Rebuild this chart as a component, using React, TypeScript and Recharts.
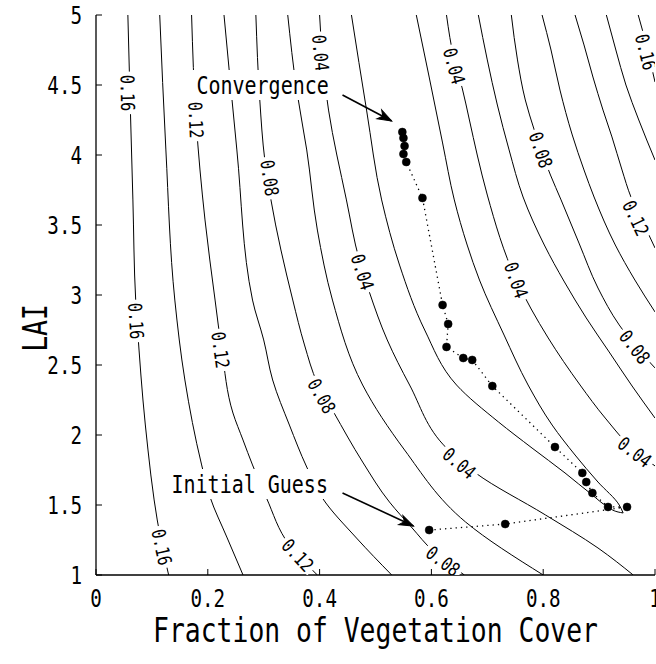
import React from 'react';
import { ComposedChart, Line, Scatter, XAxis, YAxis } from 'recharts';

const CHART_W = 656;
const CHART_H = 664;
const Y_AXIS_W = 96;
const X_AXIS_H = 89;
const TOP = 15;
const RIGHT = 1;
const PLOT_W = CHART_W - Y_AXIS_W - RIGHT;
const PLOT_H = CHART_H - TOP - X_AXIS_H;
const PLOT_BOTTOM = TOP + PLOT_H;

// the figure uses a narrow monospaced gothic face, so squeeze a mono font
const FONT = "'DejaVu Sans Mono', 'Liberation Mono', monospace";
const SQUEEZE = 0.8;

const xTicks = [0, 0.2, 0.4, 0.6, 0.8, 1];
const yTicks = [1, 1.5, 2, 2.5, 3, 3.5, 4, 4.5, 5];

// contour lines, [fraction of cover, LAI], top to bottom
const left16 = [[0.057, 5], [0.061, 4.393], [0.066, 3.679], [0.071, 2.964], [0.077, 2.607], [0.084, 2.25], [0.093, 1.893], [0.104, 1.536], [0.116, 1.25], [0.13, 1]];
const left14 = [[0.114, 5], [0.125, 4.036], [0.141, 2.964], [0.159, 2.393], [0.189, 1.786], [0.204, 1.557], [0.234, 1.271], [0.263, 1]];
const left12 = [[0.171, 5], [0.179, 4.25], [0.195, 3.536], [0.213, 2.964], [0.225, 2.607], [0.245, 2.157], [0.263, 1.964], [0.28, 1.786], [0.305, 1.55], [0.346, 1.214], [0.396, 1]];
const left10 = [[0.229, 5], [0.252, 4.036], [0.28, 2.964], [0.3, 2.679], [0.316, 2.393], [0.346, 2.071], [0.377, 1.771], [0.405, 1.55], [0.466, 1.264], [0.529, 1]];
const left08 = [[0.286, 5], [0.293, 4.393], [0.302, 3.964], [0.313, 3.679], [0.352, 2.964], [0.373, 2.643], [0.396, 2.371], [0.425, 2.164], [0.477, 1.807], [0.525, 1.521], [0.564, 1.343], [0.605, 1.164], [0.659, 1]];
const left06 = [[0.343, 5], [0.359, 4.464], [0.377, 4.036], [0.396, 3.464], [0.423, 2.964], [0.477, 2.357], [0.552, 1.893], [0.661, 1.379], [0.8, 1]];
const left04 = [[0.4, 5], [0.404, 4.75], [0.411, 4.464], [0.416, 4.321], [0.448, 3.679], [0.471, 3.25], [0.489, 3.021], [0.521, 2.679], [0.561, 2.357], [0.627, 1.907], [0.679, 1.729], [0.804, 1.429], [0.898, 1.193], [0.961, 1]];
// the 0.02 level closes into a narrow U around the valley: two branches meeting at the tip
const inner02a = [[0.457, 5], [0.484, 4.321], [0.511, 3.679], [0.543, 3.214], [0.588, 2.75], [0.645, 2.357], [0.72, 2.093], [0.78, 1.907], [0.839, 1.729], [0.888, 1.571], [0.916, 1.486], [0.934, 1.45], [0.943, 1.443]];
const inner02b = [[0.573, 5], [0.596, 4.557], [0.62, 4.086], [0.641, 3.679], [0.664, 3.357], [0.686, 3.107], [0.73, 2.714], [0.773, 2.357], [0.816, 2.071], [0.857, 1.857], [0.898, 1.664], [0.936, 1.5], [0.943, 1.443]];
const right04 = [[0.627, 5], [0.641, 4.679], [0.655, 4.479], [0.668, 4.25], [0.682, 4], [0.7, 3.714], [0.752, 3.107], [0.809, 2.693], [0.866, 2.357], [0.911, 2.121], [0.963, 1.893], [1, 1.779]];
const right06 = [[0.684, 5], [0.7, 4.679], [0.718, 4.357], [0.739, 4.036], [0.764, 3.7], [0.802, 3.357], [0.838, 3.093], [0.877, 2.836], [0.918, 2.593], [0.959, 2.35], [1, 2.121]];
const right08 = [[0.743, 5], [0.754, 4.679], [0.768, 4.393], [0.784, 4.179], [0.796, 4.036], [0.813, 3.857], [0.832, 3.679], [0.864, 3.371], [0.898, 3.05], [0.936, 2.786], [0.971, 2.607], [1, 2.479]];
const right10 = [[0.798, 5], [0.814, 4.75], [0.83, 4.464], [0.852, 4.143], [0.873, 3.893], [0.891, 3.7], [0.929, 3.357], [0.964, 3.107], [1, 2.879]];
const right12 = [[0.857, 5], [0.873, 4.786], [0.889, 4.557], [0.907, 4.321], [0.923, 4.129], [0.941, 3.893], [0.957, 3.7], [0.979, 3.514], [1, 3.336]];
const right14 = [[0.913, 5], [0.93, 4.75], [0.948, 4.5], [0.971, 4.25], [1, 3.964]];
const right16 = [[0.97, 5], [0.98, 4.857], [0.989, 4.714], [1, 4.521]];

const contours: Record<string, { level: number; pts: number[][] }> = {
  left16: { level: 0.16, pts: left16 },
  left14: { level: 0.14, pts: left14 },
  left12: { level: 0.12, pts: left12 },
  left10: { level: 0.1, pts: left10 },
  left08: { level: 0.08, pts: left08 },
  left06: { level: 0.06, pts: left06 },
  left04: { level: 0.04, pts: left04 },
  inner02a: { level: 0.02, pts: inner02a },
  inner02b: { level: 0.02, pts: inner02b },
  right04: { level: 0.04, pts: right04 },
  right06: { level: 0.06, pts: right06 },
  right08: { level: 0.08, pts: right08 },
  right10: { level: 0.1, pts: right10 },
  right12: { level: 0.12, pts: right12 },
  right14: { level: 0.14, pts: right14 },
  right16: { level: 0.16, pts: right16 },
};

// where the level values are written on the lines
const labelLine = ['left16', 'left16', 'left16', 'left12', 'left12', 'left12', 'left08', 'left08', 'left08', 'left04', 'left04', 'left04', 'right04', 'right04', 'right04', 'right08', 'right08', 'right12', 'right16'];
const labelFc = [0.057, 0.072, 0.118, 0.179, 0.223, 0.361, 0.311, 0.404, 0.621, 0.402, 0.477, 0.65, 0.641, 0.752, 0.964, 0.796, 0.964, 0.966, 0.984];
const labelLai = [4.443, 2.814, 1.2, 4.25, 2.607, 1.143, 3.836, 2.279, 1.1, 4.729, 3.164, 1.8, 4.636, 3.107, 1.879, 4.036, 2.629, 3.55, 4.736];

// iterations of the retrieval, from the initial guess to convergence
const iterFc = [0.596, 0.732, 0.95, 0.916, 0.888, 0.877, 0.87, 0.821, 0.709, 0.673, 0.657, 0.627, 0.63, 0.62, 0.584, 0.555, 0.55, 0.552, 0.55, 0.548];
const iterLai = [1.321, 1.364, 1.486, 1.486, 1.586, 1.664, 1.729, 1.914, 2.35, 2.536, 2.55, 2.629, 2.793, 2.929, 3.693, 3.95, 4.007, 4.064, 4.121, 4.164];

// callouts
const noteText = ['Convergence', 'Initial Guess'];
const noteFc = [0.298, 0.275];
const noteLai = [4.5, 1.65];
const convergenceArrow = [[0.441, 4.429], [0.529, 4.243]];
const guessArrow = [[0.441, 1.586], [0.568, 1.35]];

const toRows = (pts: number[][]) => pts.map(([fc, lai]) => ({ fc, lai }));

const labelRows = labelLine.map((line, i) => ({ line, fc: labelFc[i], lai: labelLai[i] }));
const iterRows = iterFc.map((fc, i) => ({ fc, lai: iterLai[i] }));
const noteRows = noteText.map((text, i) => ({ text, fc: noteFc[i], lai: noteLai[i] }));

const SX = PLOT_W;
const SY = PLOT_H / 4;

// direction of the contour where a label sits, in screen degrees
function labelAngle(line: string, fc: number, lai: number) {
  const pts = contours[line].pts;
  const px = fc * SX;
  const py = -lai * SY;
  let best = Infinity;
  let ang = 0;
  for (let i = 0; i < pts.length - 1; i++) {
    const x1 = pts[i][0] * SX, y1 = -pts[i][1] * SY;
    const x2 = pts[i + 1][0] * SX, y2 = -pts[i + 1][1] * SY;
    const dx = x2 - x1, dy = y2 - y1;
    const len2 = dx * dx + dy * dy || 1;
    const t = Math.max(0, Math.min(1, ((px - x1) * dx + (py - y1) * dy) / len2));
    const d = Math.hypot(x1 + t * dx - px, y1 + t * dy - py);
    if (d < best) {
      best = d;
      ang = (Math.atan2(dy, dx) * 180) / Math.PI;
    }
  }
  if (ang > 90) ang -= 180;
  if (ang <= -90) ang += 180;
  return ang;
}

const ContourLabel = (props: any) => {
  const { cx, cy, payload } = props;
  if (cx == null || cy == null) return <g />;
  const txt = contours[payload.line].level.toFixed(2);
  const ang = labelAngle(payload.line, payload.fc, payload.lai);
  const w = txt.length * 19 * 0.602 * SQUEEZE + 6;
  return (
    <g transform={`translate(${cx},${cy}) rotate(${ang})`}>
      <rect x={-w / 2} y={-7} width={w} height={14} fill="#fff" />
      <text transform={`scale(${SQUEEZE},1)`} textAnchor="middle" y={7} fontFamily={FONT} fontSize={19} fill="#000">
        {txt}
      </text>
    </g>
  );
};

const Note = (props: any) => {
  const { cx, cy, payload } = props;
  if (cx == null || cy == null) return <g />;
  const w = payload.text.length * 25 * 0.602 * SQUEEZE + 8;
  return (
    <g transform={`translate(${cx},${cy})`}>
      <rect x={-w / 2} y={-15} width={w} height={30} fill="#fff" />
      <text transform={`scale(${SQUEEZE},1)`} textAnchor="middle" y={9} fontFamily={FONT} fontSize={25} fill="#000">
        {payload.text}
      </text>
    </g>
  );
};

const arrowHead = (pts: number[][]) => (props: any) => {
  const { cx, cy, index } = props;
  if (index !== pts.length - 1) return <g key={`ah-${index}`} />;
  const a = pts[pts.length - 2];
  const b = pts[pts.length - 1];
  const ang = (Math.atan2(-(b[1] - a[1]) * SY, (b[0] - a[0]) * SX) * 180) / Math.PI;
  return (
    <polygon
      key={`ah-${index}`}
      points="0,0 -14,-5 -10,0 -14,5"
      transform={`translate(${cx},${cy}) rotate(${ang})`}
      fill="#000"
      stroke="#000"
      strokeWidth={1}
    />
  );
};

const XTick = (props: any) => {
  const { x, payload } = props;
  return (
    <g transform={`translate(${x},${PLOT_BOTTOM + 32})`}>
      <text transform={`scale(${SQUEEZE},1)`} textAnchor="middle" fontFamily={FONT} fontSize={24} fill="#000">
        {String(payload.value)}
      </text>
    </g>
  );
};

const YTick = (props: any) => {
  const { y, payload } = props;
  return (
    <g transform={`translate(${Y_AXIS_W - 14},${y + 8.7})`}>
      <text transform={`scale(${SQUEEZE},1)`} textAnchor="end" fontFamily={FONT} fontSize={24} fill="#000">
        {String(payload.value)}
      </text>
    </g>
  );
};

const XTitle = () => (
  <g transform={`translate(${Y_AXIS_W + PLOT_W / 2},642)`}>
    <text transform={`scale(${SQUEEZE},1)`} textAnchor="middle" fontFamily={FONT} fontSize={33} fill="#000">
      Fraction of Vegetation Cover
    </text>
  </g>
);

const YTitle = () => (
  <g transform={`translate(47,328) rotate(-90)`}>
    <text transform={`scale(${SQUEEZE},1)`} textAnchor="middle" fontFamily={FONT} fontSize={33} fill="#000">
      LAI
    </text>
  </g>
);

const frame = { stroke: '#000', strokeWidth: 1.3 };

export default function App() {
  return (
    <div style={{ position: 'absolute', left: 0, top: 0, background: '#fff' }}>
      <ComposedChart width={CHART_W} height={CHART_H} margin={{ top: TOP, right: RIGHT, bottom: 0, left: 0 }}>
        <XAxis
          xAxisId={0}
          type="number"
          dataKey="fc"
          domain={[0, 1]}
          ticks={xTicks}
          interval={0}
          allowDataOverflow
          height={X_AXIS_H}
          axisLine={frame}
          tickLine={{ stroke: '#000' }}
          tickSize={-6}
          tick={<XTick />}
          label={<XTitle />}
        />
        <XAxis
          xAxisId="top"
          orientation="top"
          type="number"
          dataKey="fc"
          domain={[0, 1]}
          ticks={xTicks}
          interval={0}
          height={0}
          axisLine={frame}
          tickLine={{ stroke: '#000' }}
          tickSize={-6}
          tick={false}
        />
        <YAxis
          yAxisId={0}
          type="number"
          dataKey="lai"
          domain={[1, 5]}
          ticks={yTicks}
          interval={0}
          allowDataOverflow
          width={Y_AXIS_W}
          axisLine={frame}
          tickLine={{ stroke: '#000' }}
          tickSize={-6}
          tick={<YTick />}
          label={<YTitle />}
        />
        <YAxis
          yAxisId="right"
          orientation="right"
          type="number"
          dataKey="lai"
          domain={[1, 5]}
          ticks={yTicks}
          interval={0}
          width={0}
          axisLine={frame}
          tickLine={{ stroke: '#000' }}
          tickSize={-6}
          tick={false}
        />

        {Object.entries(contours).map(([id, c]) => (
          <Line
            key={id}
            data={toRows(c.pts)}
            dataKey="lai"
            type="monotoneY"
            stroke="#000"
            strokeWidth={1}
            dot={false}
            activeDot={false}
            isAnimationActive={false}
          />
        ))}

        <Scatter data={labelRows} dataKey="lai" shape={<ContourLabel />} isAnimationActive={false} />
        <Scatter data={noteRows} dataKey="lai" shape={<Note />} isAnimationActive={false} />

        <Line
          data={toRows(convergenceArrow)}
          dataKey="lai"
          type="linear"
          stroke="#000"
          strokeWidth={1.6}
          dot={arrowHead(convergenceArrow)}
          activeDot={false}
          isAnimationActive={false}
        />
        <Line
          data={toRows(guessArrow)}
          dataKey="lai"
          type="linear"
          stroke="#000"
          strokeWidth={1.6}
          dot={arrowHead(guessArrow)}
          activeDot={false}
          isAnimationActive={false}
        />

        <Line
          data={iterRows}
          dataKey="lai"
          type="linear"
          stroke="#000"
          strokeWidth={1.3}
          strokeDasharray="1.3 4"
          dot={{ r: 4, fill: '#000', stroke: '#000', strokeWidth: 0.5, strokeDasharray: '' }}
          activeDot={false}
          isAnimationActive={false}
        />
      </ComposedChart>
    </div>
  );
}
